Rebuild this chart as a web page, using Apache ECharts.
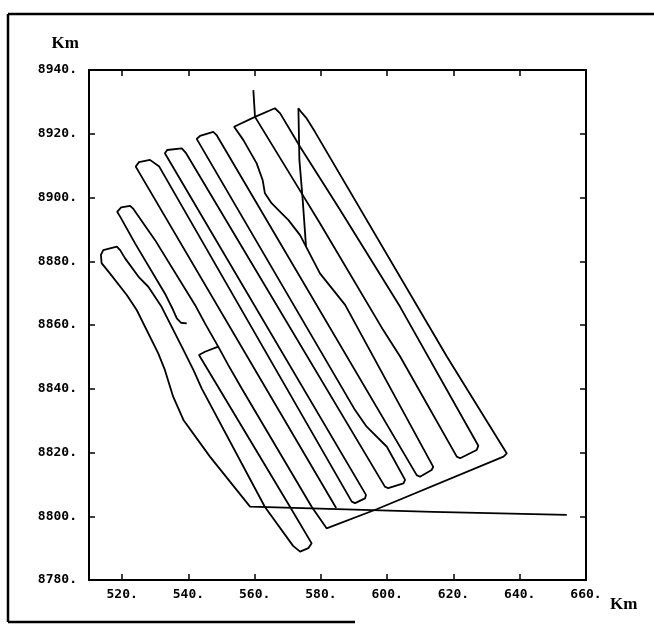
<!DOCTYPE html>
<html>
<head>
<meta charset="utf-8">
<title>Track plot</title>
<script src="https://cdn.jsdelivr.net/npm/echarts@6/dist/echarts.min.js"></script>
<style>
  html, body { margin: 0; padding: 0; background: #fff; }
  #chart { width: 654px; height: 642px; }
</style>
</head>
<body>
<div id="chart"></div>
<script>
// tick values (km)
const xTicks = [520, 540, 560, 580, 600, 620, 640, 660]
const yTicks = [8780, 8800, 8820, 8840, 8860, 8880, 8900, 8920, 8940]

// flight tracks, [easting km, northing km]
const trackWest = [
  [654.2, 8800.4], [613.8, 8801.4], [558.6, 8803.0], [546.5, 8818.7], [538.5, 8830.2],
  [535.4, 8837.5], [532.9, 8845.9], [530.9, 8851.1], [524.4, 8864.7], [521.4, 8869.4],
  [516.3, 8876.2], [513.8, 8879.4], [513.6, 8882.0], [514.3, 8883.5], [518.4, 8884.6],
  [519.4, 8883.5], [520.9, 8880.9], [524.9, 8875.2], [527.9, 8872.0], [531.9, 8865.7],
  [538.0, 8853.2], [541.5, 8845.9], [544.0, 8840.1], [563.1, 8802.9], [571.6, 8790.7],
  [573.7, 8788.9], [576.2, 8790.0], [577.2, 8791.5], [570.7, 8802.9], [543.2, 8850.6],
  [545.0, 8851.6], [549.0, 8853.2]
]
const trackLoop2 = [
  [539.5, 8860.5], [537.8, 8860.7], [536.5, 8862.1], [535.4, 8864.7], [532.9, 8869.9],
  [523.9, 8885.6], [519.4, 8894.0], [518.5, 8895.5], [519.7, 8896.9], [522.4, 8897.4],
  [523.4, 8896.4], [529.9, 8886.7], [542.0, 8866.3], [545.0, 8860.5], [549.0, 8853.2],
  [552.0, 8847.5], [556.1, 8840.1], [577.2, 8803.0], [581.7, 8796.2], [596.8, 8802.2],
  [635.1, 8818.7], [636.1, 8819.7], [618.0, 8850.1], [578.2, 8920.6], [575.7, 8924.8],
  [574.2, 8926.6], [573.2, 8928.0], [572.9, 8927.7], [573.5, 8911.8], [574.5, 8899.2],
  [575.5, 8884.6]
]
const trackEast = [
  [584.6, 8802.6], [524.1, 8909.7], [525.1, 8911.1], [528.4, 8911.8], [531.2, 8909.7],
  [589.3, 8804.6], [590.3, 8804.1], [593.3, 8805.6], [593.6, 8806.7],
  [532.9, 8913.9], [533.6, 8914.9], [538.0, 8915.4], [539.3, 8913.9],
  [599.3, 8809.3], [600.3, 8808.8], [604.9, 8810.3], [605.4, 8811.4], [599.9, 8821.8],
  [593.8, 8828.1], [590.3, 8833.3],
  [542.5, 8918.4], [543.5, 8919.3], [547.5, 8920.6], [548.5, 8919.6],
  [608.9, 8812.9], [609.9, 8812.4], [613.4, 8814.5], [613.9, 8815.5],
  [587.3, 8866.3], [579.7, 8876.2],
  [573.7, 8888.2], [570.2, 8892.9], [567.7, 8895.5], [565.1, 8898.2], [563.1, 8901.3],
  [562.4, 8905.5], [560.6, 8910.7], [556.6, 8918.0], [553.8, 8922.2], [554.1, 8922.7],
  [560.1, 8925.3], [566.1, 8928.0], [567.7, 8926.4],
  [573.7, 8915.9], [585.8, 8896.1], [603.9, 8865.7], [627.5, 8822.1], [627.0, 8820.8],
  [622.0, 8818.2], [621.0, 8818.7],
  [603.9, 8850.1], [598.8, 8858.4], [579.7, 8891.9], [574.2, 8901.3], [560.1, 8925.3],
  [559.6, 8933.7]
]

const tracks = [trackWest, trackLoop2, trackEast]

const chart = echarts.init(document.getElementById('chart'), null, { renderer: 'canvas' })

const labelFont = {
  color: '#000',
  fontFamily: 'DejaVu Sans Mono',
  fontWeight: 'bold',
  fontSize: 13
}
const nameFont = {
  color: '#000',
  fontFamily: 'Liberation Serif',
  fontWeight: 'bold',
  fontSize: 17
}

chart.setOption({
  animation: false,
  backgroundColor: '#fff',
  grid: { left: 89, right: 68, top: 70, bottom: 62 },
  xAxis: [
    {
      type: 'value',
      min: 510,
      max: 660,
      name: 'Km',
      nameLocation: 'end',
      nameGap: 24,
      nameTextStyle: Object.assign({ verticalAlign: 'top', padding: [16, 0, 0, 0] }, nameFont),
      axisLine: { lineStyle: { color: '#000', width: 2 } },
      axisTick: { inside: true, length: 6, customValues: xTicks, lineStyle: { color: '#000', width: 1.5 } },
      axisLabel: Object.assign({ customValues: xTicks, margin: 8, formatter: v => v + '.' }, labelFont),
      splitLine: { show: false }
    },
    {
      type: 'value',
      position: 'top',
      min: 510,
      max: 660,
      axisLine: { lineStyle: { color: '#000', width: 2 } },
      axisTick: { inside: true, length: 6, customValues: xTicks, lineStyle: { color: '#000', width: 1.5 } },
      axisLabel: { show: false },
      splitLine: { show: false }
    }
  ],
  yAxis: [
    {
      type: 'value',
      min: 8780,
      max: 8940,
      interval: 20,
      name: 'Km',
      nameLocation: 'end',
      nameGap: 18,
      nameTextStyle: Object.assign({ align: 'right', padding: [0, 10, 0, 0] }, nameFont),
      axisLine: { lineStyle: { color: '#000', width: 2 } },
      axisTick: { inside: true, length: 6, lineStyle: { color: '#000', width: 1.5 } },
      axisLabel: Object.assign({ margin: 12, formatter: v => v + '.' }, labelFont),
      splitLine: { show: false }
    },
    {
      type: 'value',
      position: 'right',
      min: 8780,
      max: 8940,
      interval: 20,
      axisLine: { lineStyle: { color: '#000', width: 2 } },
      axisTick: { inside: true, length: 6, lineStyle: { color: '#000', width: 1.5 } },
      axisLabel: { show: false },
      splitLine: { show: false }
    }
  ],
  // page border of the scanned figure
  graphic: [
    { type: 'line', shape: { x1: 8, y1: 14, x2: 654, y2: 14 }, style: { stroke: '#000', lineWidth: 2.5 } },
    { type: 'line', shape: { x1: 8, y1: 14, x2: 8, y2: 622 }, style: { stroke: '#000', lineWidth: 2.5 } },
    { type: 'line', shape: { x1: 8, y1: 622, x2: 355, y2: 622 }, style: { stroke: '#000', lineWidth: 2.5 } }
  ],
  series: tracks.map(t => ({
    type: 'line',
    data: t,
    showSymbol: false,
    silent: true,
    lineStyle: { color: '#000', width: 1.8 }
  }))
})
</script>
</body>
</html>
